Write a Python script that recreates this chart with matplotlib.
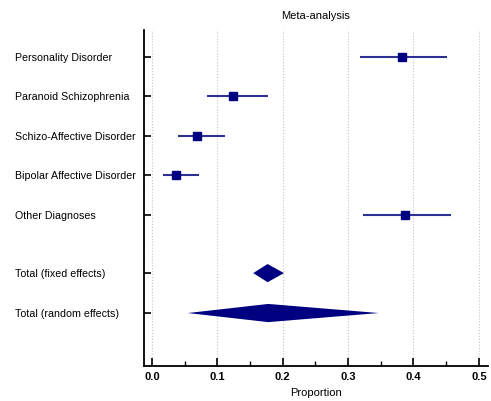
import matplotlib.pyplot as plt
from matplotlib.ticker import MultipleLocator

plt.rcParams["font.family"] = ["Liberation Sans", "DejaVu Sans"]

# study rows
labels = ["Personality Disorder", "Paranoid Schizophrenia", "Schizo-Affective Disorder",
          "Bipolar Affective Disorder", "Other Diagnoses"]
prop = [0.382, 0.124, 0.069, 0.037, 0.387]
ci_low = [0.318, 0.084, 0.040, 0.017, 0.323]
ci_high = [0.451, 0.177, 0.112, 0.072, 0.457]

# pooled estimates
pooled_labels = ["Total (fixed effects)", "Total (random effects)"]
pooled_est = [0.177, 0.178]
pooled_low = [0.155, 0.055]
pooled_high = [0.202, 0.347]

row_pos = [0, 1, 2, 3, 4]
pooled_pos = [5.47, 6.48]

navy = "#000080"
line_col = "#2e3192"

fig = plt.figure(figsize=(4.91, 4.01), dpi=100)
ax = fig.add_axes([144 / 491, 1 - 366 / 401, (488 - 144) / 491, (366 - 30) / 401])

for y, p, lo, hi in zip(row_pos, prop, ci_low, ci_high):
    ax.plot([lo, hi], [y, y], color=line_col, lw=1.5, solid_capstyle="butt", zorder=3)
    ax.plot(p, y, marker="s", ms=6, color=navy, zorder=4)

half = 0.23
for y, e, lo, hi in zip(pooled_pos, pooled_est, pooled_low, pooled_high):
    ax.fill([lo, e, hi, e], [y, y - half, y, y + half], color=navy, lw=0, zorder=3)

ax.set_xlim(-0.012, 0.514)
ax.set_ylim(7.82, -0.68)

ax.xaxis.set_major_locator(MultipleLocator(0.1))
ax.xaxis.set_minor_locator(MultipleLocator(0.05))
ax.set_xticks([0.0, 0.1, 0.2, 0.3, 0.4, 0.5])
ax.set_xticklabels(["0.0", "0.1", "0.2", "0.3", "0.4", "0.5"], fontsize=8, fontweight="bold")
ax.tick_params(axis="x", which="major", direction="in", length=6, width=1.2, pad=4)
ax.tick_params(axis="x", which="minor", direction="in", length=3.5, width=1.0)

ax.set_yticks(row_pos + pooled_pos)
ax.set_yticklabels(labels + pooled_labels, fontsize=7.7, ha="left")
ax.tick_params(axis="y", direction="in", length=5, width=1.2, pad=93)

ax.grid(axis="x", which="major", color="#c4c4c4", ls=":", lw=0.8)
ax.set_axisbelow(True)

for s in ["top", "right"]:
    ax.spines[s].set_visible(False)
for s in ["left", "bottom"]:
    ax.spines[s].set_linewidth(1.3)

ax.set_xlabel("Proportion", fontsize=8, labelpad=5)
ax.set_title("Meta-analysis", fontsize=8, pad=8)

fig.savefig("out.png", dpi=100)
